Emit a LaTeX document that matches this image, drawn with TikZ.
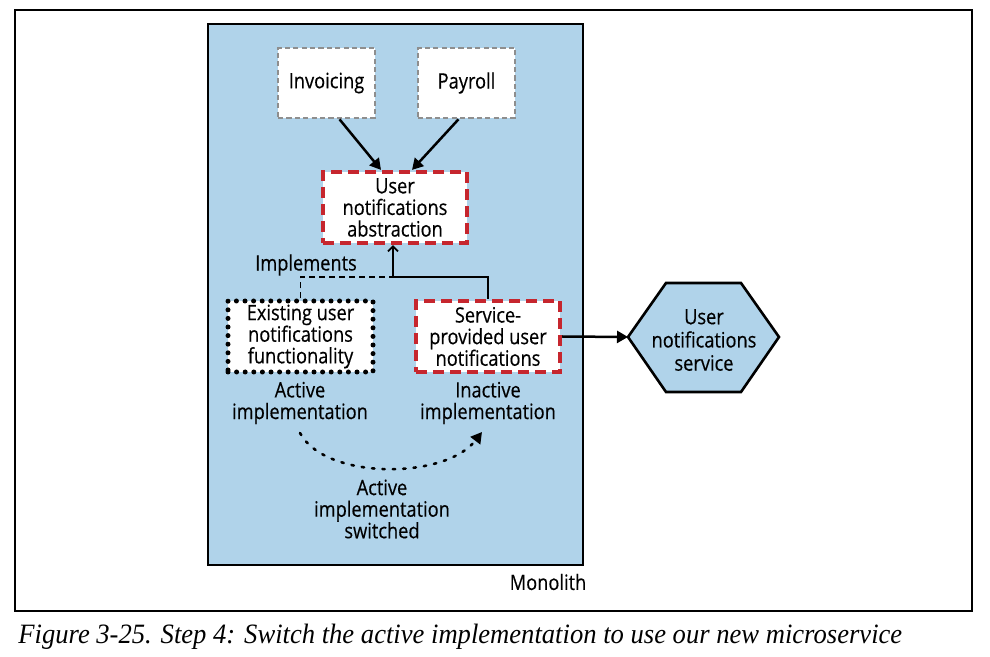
\documentclass[tikz,border=0pt]{standalone}
\usepackage{fontspec}
\setmainfont[FakeStretch=0.86,FakeBold=0.35]{Open Sans}
\newfontfamily\capfont[FakeStretch=0.95]{Liberation Serif}
\usetikzlibrary{arrows.meta}
\definecolor{monoblue}{HTML}{B0D3EA}
\definecolor{absred}{HTML}{C6262E}
\definecolor{boxgray}{HTML}{8E8E8E}
\begin{document}
\begin{tikzpicture}[x=0.5pt,y=-0.5pt,
  font=\fontsize{10.6}{10.8}\selectfont,
  lbl/.style={align=center, inner sep=0pt},
  graybox/.style={draw=boxgray, line width=1.3pt, dash pattern=on 2.6pt off 1.6pt, fill=white,
    minimum width=48.5pt, minimum height=35pt, align=center, inner sep=0pt},
  redbox/.style={draw=absred, line width=2.1pt, dash pattern=on 5.5pt off 3pt, fill=white,
    minimum width=72pt, minimum height=35.5pt, align=center, inner sep=0pt},
  dotbox/.style={draw=black, line width=2.5pt, line cap=round, dash pattern=on 0pt off 4.3pt, fill=white,
    minimum width=72.5pt, minimum height=35.5pt, align=center, inner sep=0pt},
  callarrow/.style={line width=1.25pt, -{Triangle[length=5.5pt,width=6pt]}},
  implline/.style={line width=0.9pt, -{Straight Barb[length=2.5pt,width=5pt]}},
  impldash/.style={line width=0.9pt, dash pattern=on 3pt off 2pt},
  switcharrow/.style={line width=1.3pt, line cap=round, dash pattern=on 1.2pt off 4pt, -{Triangle[length=5.5pt,width=6pt]}},
  hexshape/.style={draw=black, line width=1.3pt, fill=monoblue, line join=miter}
]
\useasboundingbox (0,0) rectangle (990,657);
% outer frame
\draw[line width=0.75pt] (15,10) rectangle (972,611);
% monolith
\node[draw, line width=1.3pt, fill=monoblue, minimum width=187.5pt, minimum height=270.5pt, inner sep=0pt] (mono) at (395.5,294.5) {};
\node[lbl] (monolbl) at (548,582) {Monolith};
% boxes
\node[graybox] (inv) at (326.5,83) {Invoicing};
\node[graybox] (pay) at (466.5,83) {Payroll};
\node[redbox] (abs) at (395,207.5) {User\\notifications\\abstraction};
\node[dotbox] (ex) at (300.5,336.5) {Existing user\\notifications\\functionality};
\node[redbox] (svc) at (488,336.5) {Service-\\provided user\\notifications};
% hexagon
\coordinate (hexL) at (628,337);
\draw[hexshape] (hexL) -- (666,283) -- (741,283) -- (779,337) -- (741,392) -- (666,392) -- cycle;
\node[lbl, font=\fontsize{10.6}{11.6}\selectfont] (hex) at (704,340) {User\\notifications\\service};
% labels
\node[lbl] (implbl) at (306,265) {Implements};
\node[lbl] (actl) at (300,403) {Active\\implementation};
\node[lbl] (inactl) at (488,403) {Inactive\\implementation};
\node[lbl] (swl) at (382,509) {Active\\implementation\\switched};
% connectors
\draw[callarrow] ([xshift=6.5pt]inv.south) -- ([xshift=-7pt]abs.north);
\draw[callarrow] ([xshift=-4pt]pay.south) -- ([xshift=8.5pt]abs.north);
\coordinate (jn) at (393,277);
\draw[impldash] (ex.north) |- (jn);
\draw[implline] (svc.north) |- (jn) -- (abs.south -| jn);
\draw[callarrow] (svc.east) -- (hexL);
\coordinate (swS) at (300,433);
\coordinate (swE) at (482,432);
\draw[switcharrow] (swS) .. controls (325,480) and (445,480) .. (swE);
% caption
\node[anchor=base west, inner sep=0pt, font=\capfont\itshape\fontsize{14}{16}\selectfont] (cap) at (18,643) {Figure 3-25. Step 4: Switch the active implementation to use our new microservice};
\end{tikzpicture}
\end{document}
